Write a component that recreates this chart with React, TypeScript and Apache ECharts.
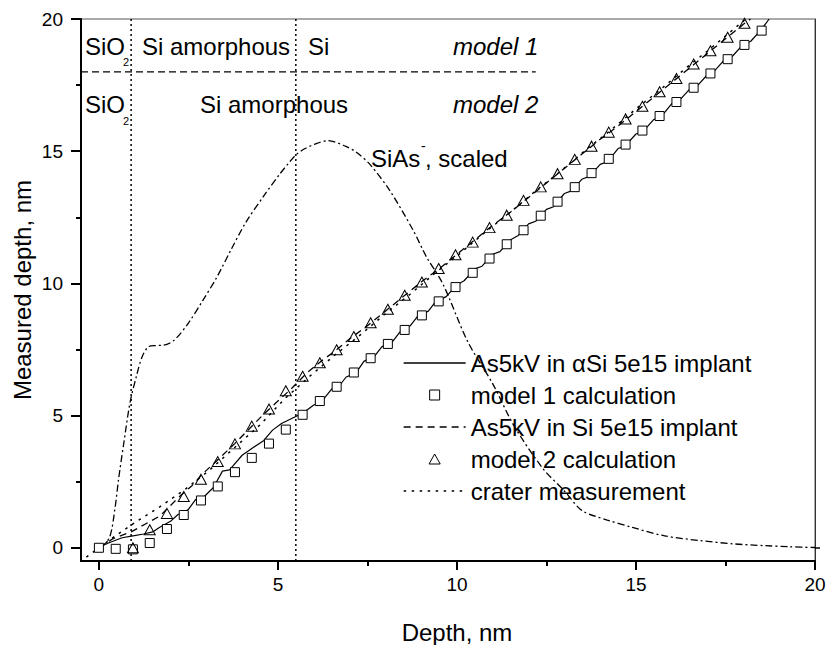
import React, { useEffect, useRef } from 'react';
import * as echarts from 'echarts';

const FONT = 'Liberation Sans';

// Axis ticks
const xTickLabels = [0, 5, 10, 15, 20];
const xMinorTicks = [2.5, 7.5, 12.5, 17.5];
const yTickLabels = [0, 5, 10, 15, 20];
const yMinorTicks = [2.5, 7.5, 12.5, 17.5];

// Series names
const nameAlphaSi = 'As5kV in \u03b1Si 5e15 implant';
const nameModel1 = 'model 1 calculation';
const nameSi = 'As5kV in Si 5e15 implant';
const nameModel2 = 'model 2 calculation';
const nameCrater = 'crater measurement';

// model 1 calculation (squares)
const model1Depth = [0.00, 0.47, 0.95, 1.42, 1.90, 2.37, 2.85, 3.32, 3.80, 4.27, 4.75, 5.22, 5.69, 6.17, 6.64, 7.12, 7.59, 8.07, 8.54, 9.02, 9.49, 9.96, 10.44, 10.91, 11.39, 11.86, 12.34, 12.81, 13.29, 13.76, 14.24, 14.71, 15.18, 15.66, 16.13, 16.61, 17.08, 17.56, 18.03, 18.51];
const model1Measured = [0.00, -0.04, -0.06, 0.18, 0.71, 1.24, 1.79, 2.32, 2.86, 3.40, 3.94, 4.47, 5.03, 5.55, 6.09, 6.63, 7.17, 7.71, 8.24, 8.79, 9.32, 9.86, 10.40, 10.94, 11.48, 12.01, 12.56, 13.09, 13.64, 14.17, 14.71, 15.25, 15.78, 16.33, 16.86, 17.40, 17.94, 18.48, 19.02, 19.56];

// model 2 calculation (triangles)
const model2Depth = [0.95, 1.42, 1.90, 2.37, 2.85, 3.32, 3.80, 4.27, 4.75, 5.22, 5.69, 6.17, 6.64, 7.12, 7.59, 8.07, 8.54, 9.02, 9.49, 9.96, 10.44, 10.91, 11.39, 11.86, 12.34, 12.81, 13.29, 13.76, 14.24, 14.71, 15.18, 15.66, 16.13, 16.61, 17.08, 17.56, 18.03];
const model2Measured = [0.00, 0.68, 1.30, 1.94, 2.59, 3.26, 3.93, 4.60, 5.25, 5.94, 6.49, 7.00, 7.49, 7.99, 8.51, 9.02, 9.55, 10.05, 10.56, 11.08, 11.56, 12.11, 12.58, 13.14, 13.65, 14.15, 14.69, 15.19, 15.72, 16.22, 16.70, 17.25, 17.75, 18.30, 18.80, 19.31, 19.84];

// As5kV in alpha-Si (solid)
const alphaSiDepth = [0, 0.3, 0.65, 0.95, 1.25, 1.5, 1.7, 2.0, 2.2, 2.5, 2.7, 2.95, 3.2, 3.45, 3.65, 4.0, 4.3, 4.6, 4.85, 5.1, 5.4, 5.7, 6.0, 6.2, 6.5, 6.7, 6.9, 7.2, 7.4, 7.7, 7.9, 8.2, 8.4, 8.7, 8.9, 9.2, 9.4, 9.7, 10.0, 10.2, 10.5, 10.7, 11.0, 11.2, 11.5, 11.7, 12.0, 12.2, 12.5, 12.7, 13.0, 13.2, 13.5, 13.7, 14.0, 14.2, 14.5, 14.7, 15.0, 15.2, 15.5, 15.7, 16.0, 16.2, 16.5, 16.7, 17.0, 17.2, 17.5, 17.7, 18.0, 18.2, 18.5, 18.72];
const alphaSiMeasured = [0.02, 0.2, 0.38, 0.45, 0.52, 0.6, 0.78, 1.0, 1.25, 1.45, 1.82, 1.95, 2.28, 2.9, 2.95, 3.5, 3.78, 4.05, 4.45, 4.7, 4.9, 5.1, 5.4, 5.5, 6.0, 6.1, 6.45, 6.65, 7.05, 7.25, 7.6, 7.8, 8.15, 8.4, 8.75, 8.95, 9.3, 9.5, 9.95, 10.1, 10.55, 10.65, 11.1, 11.2, 11.65, 11.8, 12.25, 12.35, 12.8, 12.9, 13.4, 13.5, 13.95, 14.05, 14.5, 14.6, 15.1, 15.2, 15.65, 15.75, 16.2, 16.3, 16.8, 16.9, 17.35, 17.45, 17.9, 18.05, 18.5, 18.6, 19.05, 19.15, 19.6, 20.0];

// As5kV in Si (dashed)
const siDepth = [0, 0.4, 0.9, 1.3, 1.7, 2.0, 2.3, 2.6, 2.9, 3.3, 3.8, 4.2, 4.6, 5.0, 5.4, 5.8, 6.2, 6.6, 7.0, 7.5, 8.0, 8.5, 9.0, 9.5, 10.0, 10.5, 11.0, 11.5, 12.0, 12.5, 13.0, 13.5, 14.0, 14.5, 15.0, 15.5, 16.0, 16.5, 17.0, 17.5, 18.0, 18.2];
const siMeasured = [0, 0.35, 0.6, 0.9, 1.2, 1.6, 2.0, 2.35, 2.8, 3.3, 3.95, 4.5, 5.05, 5.55, 6.05, 6.6, 7.05, 7.45, 7.9, 8.4, 8.95, 9.5, 10.05, 10.55, 11.1, 11.65, 12.2, 12.7, 13.25, 13.8, 14.35, 14.9, 15.45, 15.95, 16.5, 17.05, 17.6, 18.15, 18.7, 19.25, 19.8, 20.0];

// crater measurement (dotted)
const craterDepth = [-0.35, 0.3, 1.0, 1.7, 2.4, 3.1, 3.8, 4.5, 5.2, 5.9, 6.6, 7.3, 8.0, 8.7, 9.4, 10.1, 10.8, 11.5, 12.2, 12.9, 13.6, 14.3, 15.0, 15.7, 16.4, 17.1, 17.8, 18.2];
const craterMeasured = [-0.35, 0.3, 0.95, 1.55, 2.2, 2.95, 3.8, 4.65, 5.65, 6.5, 7.3, 8.05, 8.85, 9.6, 10.4, 11.15, 11.95, 12.7, 13.5, 14.25, 15.05, 15.8, 16.6, 17.35, 18.15, 18.9, 19.7, 20.15];

// SiAs- profile, scaled (dash-dot)
const siAsDepth = [0.05, 0.3, 0.45, 0.55, 0.7, 0.87, 1.05, 1.2, 1.38, 1.6, 1.8, 2.1, 2.5, 2.9, 3.3, 3.7, 4.1, 4.6, 5.06, 5.3, 5.52, 5.76, 6.0, 6.4, 6.9, 7.2, 7.57, 8.13, 8.78, 9.15, 9.6, 10.3, 11.0, 11.6, 12.4, 13.0, 13.5, 14.2, 14.9, 15.8, 16.8, 17.7, 18.6, 19.3, 20.0];
const siAsSignal = [0.0, 0.4, 1.5, 2.6, 4.0, 5.5, 6.5, 7.2, 7.6, 7.65, 7.66, 7.85, 8.5, 9.35, 10.25, 11.3, 12.3, 13.3, 14.15, 14.55, 14.88, 15.1, 15.25, 15.4, 15.18, 14.95, 14.5, 13.5, 12.0, 11.0, 10.0, 7.8, 6.2, 4.6, 3.0, 2.15, 1.4, 1.05, 0.77, 0.45, 0.27, 0.15, 0.08, 0.04, 0.01];

// Layer boundaries and model divider
const boundaryDepths = [0.9, 5.5];
const dividerLevel = 18;
const dividerEnd = 12.2;
const axisMin = -0.5;
const axisMax = 20;

const zip = (xs: number[], ys: number[]) => xs.map((x, i) => [x, ys[i]]);

const txt = (text: string, x: number, y: number, size = 24, extra: any = {}) => ({
  type: 'text',
  x,
  y,
  z: 10,
  style: {
    text,
    fontSize: size,
    fontFamily: FONT,
    fill: '#000',
    align: 'left',
    verticalAlign: 'middle',
    textAlign: 'left',
    textVerticalAlign: 'middle',
    ...extra,
  },
});

const clear = { color: 'rgba(0,0,0,0)', borderColor: 'rgba(0,0,0,0)', borderWidth: 0 };

export default function App() {
  const ref = useRef<HTMLDivElement>(null);
  useEffect(() => {
    if (!ref.current) return;
    const chart = echarts.init(ref.current, null, { renderer: 'svg' });
    const boundarySeries = boundaryDepths.map((d, i) => ({
      name: 'boundary' + i,
      type: 'line',
      data: [[d, axisMin], [d, axisMax]],
      symbol: 'none',
      silent: true,
      lineStyle: { color: '#000', width: 1.5, type: [2, 3] },
      z: 1,
    }));
    chart.setOption({
      animation: false,
      color: ['#000'],
      textStyle: { fontFamily: FONT },
      grid: {
        left: 81, right: 11, top: 19, bottom: 84,
        show: true, borderColor: '#555', borderWidth: 1,
        outerBoundsMode: 'none',
      },
      xAxis: [
        {
          type: 'value', min: axisMin, max: axisMax, position: 'bottom',
          splitLine: { show: false },
          axisLine: { show: true, onZero: false, lineStyle: { color: '#000', width: 2 } },
          axisTick: { show: true, customValues: xTickLabels, length: 9, lineStyle: { color: '#000', width: 2 } },
          axisLabel: { customValues: xTickLabels, fontSize: 19, fontFamily: FONT, color: '#000', margin: 14 },
        },
        {
          type: 'value', min: axisMin, max: axisMax, position: 'bottom',
          splitLine: { show: false },
          axisLine: { show: false, onZero: false },
          axisTick: { show: true, customValues: xMinorTicks, length: 5, lineStyle: { color: '#000', width: 2 } },
          axisLabel: { show: false },
        },
      ],
      yAxis: [
        {
          type: 'value', min: axisMin, max: axisMax, position: 'left',
          splitLine: { show: false },
          axisLine: { show: true, onZero: false, lineStyle: { color: '#000', width: 2 } },
          axisTick: { show: true, customValues: yTickLabels, length: 10, lineStyle: { color: '#000', width: 2 } },
          axisLabel: { customValues: yTickLabels, fontSize: 19, fontFamily: FONT, color: '#000', margin: 18 },
        },
        {
          type: 'value', min: axisMin, max: axisMax, position: 'left',
          splitLine: { show: false },
          axisLine: { show: false, onZero: false },
          axisTick: { show: true, customValues: yMinorTicks, length: 5, lineStyle: { color: '#000', width: 2 } },
          axisLabel: { show: false },
        },
        {
          type: 'value', min: axisMin, max: axisMax, position: 'right',
          splitLine: { show: false },
          axisLine: { show: true, onZero: false, lineStyle: { color: '#333', width: 1 } },
          axisTick: { show: true, customValues: [0], length: 5, lineStyle: { color: '#000', width: 1.5 } },
          axisLabel: { show: false },
        },
      ],
      legend: {
        orient: 'vertical', left: 403, top: 351, padding: 0,
        itemWidth: 62, itemHeight: 10, itemGap: 8,
        selectedMode: false,
        textStyle: { fontSize: 24, lineHeight: 24, fontFamily: FONT, color: '#000' },
        lineStyle: { width: 1.3 },
        data: [
          { name: nameAlphaSi, itemStyle: clear },
          { name: nameModel1, icon: 'path://M0,0L10,0L10,10L0,10Z', itemStyle: { color: '#fff', borderColor: '#000', borderWidth: 1, opacity: 1 } },
          { name: nameSi, itemStyle: clear },
          { name: nameModel2, icon: 'path://M5,0L10,9L0,9Z', itemStyle: { color: 'rgba(255,255,255,0)', borderColor: '#000', borderWidth: 1, opacity: 1 } },
          { name: nameCrater, itemStyle: clear },
        ],
      },
      graphic: [
        txt('SiO', 85, 46),
        txt('2', 123, 62, 11),
        txt('Si amorphous', 142, 46),
        txt('Si', 308, 46),
        txt('model 1', 453, 46, 24, { fontStyle: 'italic' }),
        txt('SiO', 85, 104.5),
        txt('2', 123, 120.5, 11),
        txt('Si amorphous', 200, 104.5),
        txt('model 2', 453, 104.5, 24, { fontStyle: 'italic' }),
        txt('SiAs', 371, 158),
        txt('-', 421, 146, 14),
        txt(', scaled', 425, 158),
        txt('Depth, nm', 457, 632, 24, { align: 'center', textAlign: 'center' }),
        {
          type: 'text', x: 22, y: 290, rotation: Math.PI / 2, z: 10,
          style: {
            text: 'Measured depth, nm', fontSize: 24, fontFamily: FONT, fill: '#000',
            align: 'center', verticalAlign: 'middle', textAlign: 'center', textVerticalAlign: 'middle',
          },
        },
      ],
      series: [
        {
          name: nameAlphaSi, type: 'line', data: zip(alphaSiDepth, alphaSiMeasured),
          symbol: 'none', silent: true, z: 2,
          itemStyle: { color: '#000' },
          lineStyle: { color: '#000', width: 1.2 },
        },
        {
          name: nameModel1, type: 'scatter', data: zip(model1Depth, model1Measured),
          symbol: 'rect', symbolSize: 9, silent: true, z: 5,
          itemStyle: { color: '#fff', borderColor: '#000', borderWidth: 1, opacity: 1 },
        },
        {
          name: nameSi, type: 'line', data: zip(siDepth, siMeasured),
          symbol: 'none', silent: true, z: 2,
          itemStyle: { color: '#000' },
          lineStyle: { color: '#000', width: 1.3, type: [7, 5] },
        },
        {
          name: nameModel2, type: 'scatter', data: zip(model2Depth, model2Measured),
          symbol: 'triangle', symbolSize: [11, 10], silent: true, z: 5,
          itemStyle: { color: 'rgba(255,255,255,0)', borderColor: '#000', borderWidth: 1, opacity: 1 },
        },
        {
          name: nameCrater, type: 'line', data: zip(craterDepth, craterMeasured),
          symbol: 'none', silent: true, z: 2,
          itemStyle: { color: '#000' },
          lineStyle: { color: '#000', width: 1.5, type: [2.5, 5.5] },
        },
        {
          name: 'SiAs- scaled', type: 'line', data: zip(siAsDepth, siAsSignal),
          symbol: 'none', silent: true, smooth: 0.3, z: 2,
          itemStyle: { color: '#000' },
          lineStyle: { color: '#000', width: 1.3, type: [7, 3, 2, 3] },
        },
        ...boundarySeries,
        {
          name: 'divider', type: 'line', data: [[axisMin, dividerLevel], [dividerEnd, dividerLevel]],
          symbol: 'none', silent: true, z: 1,
          lineStyle: { color: '#000', width: 1.3, type: [7, 4] },
        },
      ],
    });
    return () => chart.dispose();
  }, []);
  return <div ref={ref} style={{ position: 'fixed', left: 0, top: 0, width: 826, height: 645, background: '#fff' }} />;
}
